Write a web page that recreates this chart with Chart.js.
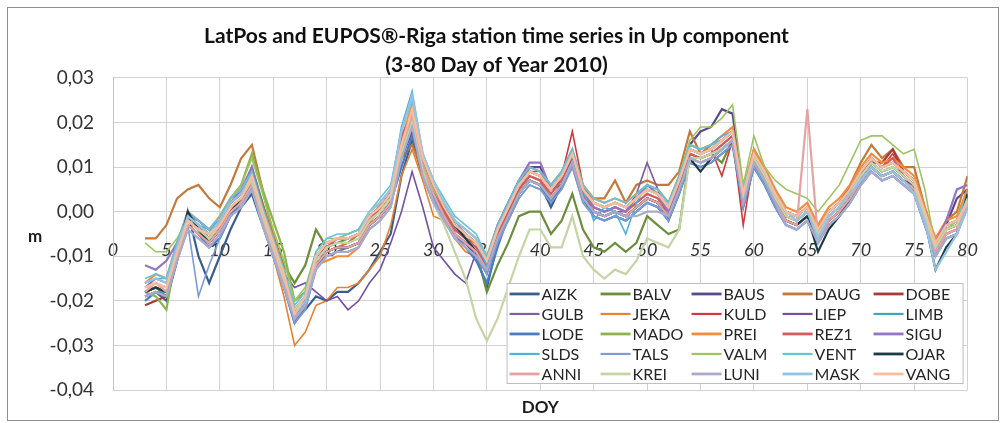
<!DOCTYPE html>
<html>
<head>
<meta charset="utf-8">
<script src="https://cdn.jsdelivr.net/npm/chart.js@4.4.0/dist/chart.umd.min.js"></script>
<style>
  html, body { margin: 0; padding: 0; background: #fff; }
  #wrap { width: 1006px; height: 423px; }
</style>
</head>
<body>
<div id="wrap"><canvas id="c" width="1006" height="423"></canvas></div>
<script>
// Day of year for every sample
const doy = [3,4,5,6,7,8,9,10,11,12,13,14,15,16,17,18,19,20,21,22,23,24,25,26,27,28,29,30,31,32,
  33,34,35,36,37,38,39,40,41,42,43,44,45,46,47,48,49,50,51,52,53,54,55,56,57,58,59,60,61,62,
  63,64,65,66,67,68,69,70,71,72,73,74,75,76,77,78,79,80];

// Up component per station, metres
const aizk = [-0.019,-0.018,-0.020,-0.011,0.000,-0.010,-0.016,-0.010,-0.004,0.001,
  0.004,-0.003,-0.010,-0.017,-0.024,-0.022,-0.019,-0.020,-0.018,-0.018,
  -0.016,-0.013,-0.009,-0.005,0.008,0.016,0.008,0.002,-0.002,-0.005,
  -0.007,-0.010,-0.017,-0.007,-0.001,0.004,0.007,0.006,0.001,0.006,
  0.011,0.003,0.000,-0.001,0.000,-0.001,0.001,0.003,0.002,-0.001,
  0.005,0.012,0.011,0.012,0.014,0.016,0.002,0.011,0.007,0.002,
  -0.002,-0.003,-0.001,-0.006,-0.002,0.000,0.003,0.007,0.010,0.008,
  0.009,0.007,0.005,-0.002,-0.009,-0.005,-0.004,0.002];
const balv = [-0.018,-0.017,-0.019,-0.009,-0.002,-0.004,-0.005,-0.002,0.002,0.004,
  0.010,0.002,-0.006,-0.012,-0.016,-0.012,-0.004,-0.008,-0.007,-0.006,
  -0.005,-0.001,0.001,0.004,0.013,0.020,0.011,0.005,0.000,-0.004,
  -0.006,-0.009,-0.018,-0.012,-0.007,-0.001,0.000,0.000,-0.005,-0.002,
  0.004,-0.004,-0.008,-0.009,-0.007,-0.009,-0.007,-0.001,-0.003,-0.005,
  -0.004,0.013,0.012,0.013,0.011,0.016,0.003,0.012,0.008,0.003,
  -0.001,-0.002,0.000,-0.005,-0.001,0.001,0.004,0.008,0.011,0.009,
  0.010,0.008,0.006,-0.001,-0.008,-0.004,-0.003,0.004];
const baus = [-0.018,-0.017,-0.018,-0.010,-0.003,-0.005,-0.007,-0.004,0.000,0.002,
  0.006,-0.002,-0.009,-0.016,-0.024,-0.021,-0.012,-0.009,-0.008,-0.008,
  -0.007,-0.003,-0.001,0.002,0.012,0.018,0.009,0.003,-0.001,-0.005,
  -0.007,-0.009,-0.013,-0.006,0.000,0.006,0.010,0.010,0.005,0.006,
  0.011,0.003,0.000,-0.001,0.000,-0.001,0.001,0.003,0.002,-0.001,
  0.007,0.015,0.018,0.019,0.023,0.022,0.004,0.011,0.008,0.002,
  -0.002,-0.003,-0.001,-0.006,-0.002,0.000,0.003,0.007,0.010,0.008,
  0.009,0.007,0.006,-0.002,-0.009,-0.003,0.003,0.005];
const daug = [-0.006,-0.006,-0.003,0.003,0.005,0.006,0.003,0.001,0.006,0.012,
  0.015,0.005,-0.005,-0.013,-0.022,-0.020,-0.012,-0.009,-0.008,-0.007,
  -0.005,-0.002,0.001,0.004,0.012,0.015,0.009,0.005,0.000,-0.003,
  -0.006,-0.007,-0.012,-0.004,0.001,0.005,0.008,0.007,0.003,0.006,
  0.011,0.005,0.003,0.003,0.007,0.002,0.006,0.007,0.006,0.006,
  0.009,0.018,0.013,0.015,0.016,0.018,0.004,0.014,0.009,0.004,
  0.000,-0.001,0.001,-0.004,0.000,0.002,0.006,0.011,0.015,0.012,
  0.014,0.010,0.010,0.001,-0.007,-0.002,0.000,0.008];
const dobe = [-0.021,-0.020,-0.019,-0.008,-0.001,-0.003,-0.005,-0.002,0.002,0.004,
  0.008,0.000,-0.007,-0.014,-0.022,-0.019,-0.010,-0.007,-0.006,-0.006,
  -0.005,-0.001,0.001,0.004,0.015,0.022,0.011,0.005,0.001,-0.003,
  -0.005,-0.007,-0.011,-0.004,0.001,0.006,0.009,0.008,0.005,0.008,
  0.013,0.005,0.002,0.001,0.002,0.001,0.003,0.005,0.004,0.001,
  0.007,0.014,0.013,0.014,0.016,0.018,0.004,0.013,0.009,0.004,
  0.000,-0.001,0.001,-0.004,0.000,0.002,0.005,0.009,0.011,0.011,
  0.014,0.009,0.007,0.000,-0.007,-0.003,-0.002,0.005];
const gulb = [-0.017,-0.015,-0.016,-0.008,-0.001,-0.003,-0.006,-0.003,0.001,0.003,
  0.007,-0.001,-0.008,-0.015,-0.023,-0.020,-0.011,-0.008,-0.007,-0.007,
  -0.006,-0.002,0.000,0.003,0.014,0.020,0.010,0.004,0.000,-0.004,
  -0.006,-0.008,-0.012,-0.004,0.001,0.006,0.009,0.009,0.005,0.007,
  0.012,0.004,0.000,-0.001,0.000,0.000,0.004,0.011,0.005,-0.002,
  0.006,0.013,0.012,0.013,0.015,0.017,0.003,0.012,0.008,0.003,
  -0.001,-0.002,0.000,-0.005,-0.001,0.001,0.004,0.008,0.011,0.009,
  0.010,0.008,0.006,-0.001,-0.008,-0.004,-0.003,0.003];
const jeka = [-0.019,-0.018,-0.019,-0.010,-0.003,-0.005,-0.007,-0.004,0.000,0.002,
  0.006,-0.002,-0.010,-0.019,-0.030,-0.027,-0.021,-0.020,-0.017,-0.017,
  -0.016,-0.013,-0.010,-0.003,0.008,0.014,0.007,-0.001,-0.002,-0.006,
  -0.009,-0.010,-0.014,-0.006,-0.001,0.004,0.007,0.006,0.003,0.006,
  0.011,0.003,0.000,-0.001,0.000,-0.001,0.001,0.003,0.002,-0.001,
  0.005,0.012,0.011,0.012,0.014,0.016,0.002,0.011,0.007,0.002,
  -0.002,-0.003,-0.001,-0.006,-0.002,0.000,0.003,0.007,0.010,0.008,
  0.009,0.007,0.005,-0.002,-0.009,-0.005,-0.004,0.002];
const kuld = [-0.016,-0.015,-0.016,-0.008,-0.001,-0.003,-0.005,-0.002,0.002,0.004,
  0.008,0.000,-0.007,-0.014,-0.022,-0.019,-0.010,-0.007,-0.006,-0.006,
  -0.005,-0.001,0.001,0.004,0.015,0.021,0.011,0.005,0.001,-0.003,
  -0.005,-0.007,-0.011,-0.004,0.001,0.006,0.009,0.008,0.005,0.008,
  0.018,0.006,0.002,0.001,0.002,0.001,0.003,0.005,0.004,0.001,
  0.007,0.014,0.013,0.014,0.008,0.016,-0.003,0.012,0.009,0.004,
  0.000,-0.001,0.001,-0.004,0.000,0.002,0.005,0.009,0.012,0.010,
  0.013,0.009,0.007,0.000,-0.007,-0.003,-0.002,0.004];
const liep = [-0.017,-0.016,-0.017,-0.009,-0.002,-0.004,-0.006,-0.003,0.001,0.003,
  0.007,-0.001,-0.008,-0.014,-0.017,-0.016,-0.018,-0.020,-0.019,-0.022,
  -0.020,-0.016,-0.013,-0.007,0.000,0.009,0.001,-0.008,-0.011,-0.014,
  -0.016,-0.009,-0.012,-0.004,0.001,0.006,0.009,0.008,0.005,0.007,
  0.012,0.004,0.001,0.000,0.001,0.000,0.002,0.004,0.003,0.000,
  0.006,0.013,0.012,0.013,0.015,0.017,0.003,0.012,0.008,0.003,
  -0.001,-0.002,0.000,-0.005,-0.001,0.001,0.004,0.008,0.011,0.009,
  0.010,0.008,0.006,-0.001,-0.008,-0.004,-0.003,0.003];
const limb = [-0.019,-0.018,-0.018,-0.011,-0.004,-0.006,-0.008,-0.005,-0.001,0.001,
  0.005,-0.003,-0.010,-0.017,-0.025,-0.022,-0.013,-0.010,-0.009,-0.009,
  -0.008,-0.004,-0.002,0.001,0.013,0.019,0.009,0.003,-0.002,-0.006,
  -0.008,-0.010,-0.014,-0.007,-0.002,0.003,0.006,0.005,0.002,0.005,
  0.010,0.002,-0.001,-0.002,-0.001,-0.002,0.000,0.002,0.001,-0.002,
  0.004,0.011,0.010,0.011,0.013,0.015,0.001,0.010,0.006,0.001,
  -0.003,-0.004,-0.002,-0.007,-0.003,-0.001,0.002,0.006,0.009,0.007,
  0.008,0.006,0.004,-0.003,-0.010,-0.006,-0.005,0.001];
const lode = [-0.020,-0.018,-0.019,-0.011,-0.003,-0.005,-0.008,-0.006,-0.001,0.002,
  0.006,-0.002,-0.010,-0.017,-0.025,-0.021,-0.012,-0.010,-0.009,-0.008,
  -0.007,-0.003,-0.001,0.002,0.010,0.017,0.010,0.004,-0.001,-0.005,
  -0.008,-0.011,-0.016,-0.008,-0.001,0.004,0.007,0.006,0.002,0.006,
  0.012,0.003,-0.001,-0.002,-0.001,-0.002,0.000,0.002,0.001,-0.002,
  0.004,0.011,0.010,0.011,0.013,0.015,0.001,0.010,0.006,0.001,
  -0.003,-0.004,-0.002,-0.007,-0.003,-0.001,0.002,0.006,0.009,0.007,
  0.008,0.006,0.004,-0.003,-0.010,-0.006,-0.005,0.001];
const mado = [-0.018,-0.019,-0.022,-0.008,-0.001,-0.003,-0.005,-0.002,0.003,0.006,
  0.013,0.005,-0.002,-0.009,-0.020,-0.018,-0.010,-0.007,-0.006,-0.006,
  -0.005,-0.001,0.001,0.004,0.015,0.021,0.011,0.005,0.001,-0.003,
  -0.005,-0.007,-0.011,-0.004,0.001,0.006,0.009,0.008,0.005,0.008,
  0.013,0.005,0.002,0.001,0.002,0.001,0.003,0.005,0.004,0.001,
  0.007,0.014,0.013,0.014,0.016,0.018,0.004,0.013,0.009,0.004,
  0.000,-0.001,0.001,-0.004,0.000,0.002,0.005,0.009,0.012,0.010,
  0.011,0.009,0.007,0.000,-0.007,-0.003,-0.002,0.004];
const prei = [-0.016,-0.014,-0.015,-0.007,0.000,-0.002,-0.004,-0.001,0.003,0.005,
  0.009,0.001,-0.006,-0.013,-0.024,-0.021,-0.012,-0.011,-0.010,-0.010,
  -0.008,-0.003,0.002,0.005,0.016,0.024,0.012,0.006,0.002,-0.002,
  -0.004,-0.006,-0.010,-0.003,0.002,0.007,0.010,0.009,0.006,0.009,
  0.014,0.006,0.003,0.002,0.003,0.002,0.004,0.006,0.005,0.002,
  0.008,0.015,0.014,0.015,0.017,0.019,0.005,0.014,0.010,0.005,
  0.001,0.000,0.002,-0.003,0.001,0.003,0.006,0.010,0.013,0.011,
  0.012,0.010,0.008,0.001,-0.006,-0.002,-0.001,0.005];
const rez1 = [-0.018,-0.017,-0.018,-0.009,-0.002,-0.004,-0.006,-0.003,0.001,0.003,
  0.007,-0.001,-0.008,-0.015,-0.024,-0.020,-0.011,-0.008,-0.006,-0.006,
  -0.005,-0.001,0.000,0.003,0.017,0.022,0.010,0.004,0.000,-0.004,
  -0.006,-0.008,-0.012,-0.005,0.000,0.005,0.008,0.007,0.004,0.007,
  0.013,0.004,0.001,0.000,0.001,0.000,0.002,0.004,0.003,0.000,
  0.006,0.013,0.012,0.013,0.015,0.017,0.003,0.012,0.008,0.003,
  -0.001,-0.002,0.000,-0.005,-0.001,0.001,0.004,0.008,0.012,0.010,
  0.012,0.008,0.006,-0.001,-0.008,-0.004,-0.003,0.003];
const sigu = [-0.012,-0.013,-0.011,-0.007,-0.001,-0.002,-0.004,-0.002,0.002,0.005,
  0.010,0.001,-0.007,-0.014,-0.022,-0.019,-0.010,-0.007,-0.006,-0.006,
  -0.005,-0.001,0.001,0.004,0.015,0.021,0.011,0.005,0.001,-0.003,
  -0.005,-0.007,-0.011,-0.003,0.002,0.007,0.011,0.011,0.005,0.008,
  0.013,0.005,0.001,0.000,0.001,0.000,0.003,0.006,0.004,0.000,
  0.007,0.014,0.013,0.014,0.016,0.018,0.004,0.013,0.009,0.004,
  0.000,-0.001,0.001,-0.004,0.000,0.002,0.005,0.009,0.012,0.010,
  0.011,0.009,0.007,0.000,-0.007,-0.002,0.005,0.006];
const slds = [-0.016,-0.015,-0.015,-0.007,-0.001,-0.003,-0.004,-0.002,0.002,0.004,
  0.008,0.000,-0.007,-0.015,-0.024,-0.020,-0.010,-0.007,-0.006,-0.005,
  -0.004,0.000,0.002,0.005,0.019,0.027,0.013,0.007,0.002,-0.002,
  -0.005,-0.007,-0.012,-0.004,0.002,0.007,0.010,0.009,0.006,0.009,
  0.014,0.005,-0.002,0.001,0.000,-0.005,0.002,0.006,0.005,0.002,
  0.008,0.015,0.014,0.015,0.017,0.018,0.005,0.013,0.009,0.004,
  0.000,-0.001,0.001,-0.005,0.000,0.002,0.005,0.009,0.012,0.010,
  0.011,0.009,0.007,0.000,-0.008,-0.004,-0.002,0.004];
const tals = [-0.019,-0.018,-0.019,-0.010,-0.003,-0.019,-0.012,-0.006,-0.001,0.001,
  0.005,-0.003,-0.010,-0.017,-0.025,-0.022,-0.013,-0.010,-0.009,-0.009,
  -0.008,-0.004,-0.002,0.001,0.012,0.020,0.009,0.003,-0.002,-0.006,
  -0.008,-0.010,-0.014,-0.007,-0.002,0.003,0.006,0.005,0.002,0.005,
  0.010,0.002,-0.001,-0.002,-0.001,-0.002,0.000,0.002,0.001,-0.002,
  0.004,0.011,0.010,0.011,0.013,0.015,0.001,0.010,0.006,0.001,
  -0.003,-0.004,-0.002,-0.007,-0.003,-0.001,0.002,0.006,0.009,0.007,
  0.008,0.006,0.004,-0.003,-0.010,-0.006,-0.005,0.001];
const valm = [-0.007,-0.009,-0.009,-0.006,-0.002,-0.003,-0.005,-0.002,0.003,0.006,
  0.012,0.004,-0.004,-0.011,-0.020,-0.017,-0.009,-0.006,-0.006,-0.005,
  -0.004,0.000,0.002,0.005,0.015,0.021,0.011,0.005,0.001,-0.003,
  -0.005,-0.007,-0.011,-0.004,0.001,0.006,0.009,0.008,0.005,0.008,
  0.013,0.005,0.002,0.001,0.002,0.001,0.003,0.005,0.004,0.001,
  0.008,0.016,0.019,0.019,0.021,0.024,0.006,0.017,0.010,0.007,
  0.005,0.004,0.003,0.000,0.003,0.006,0.011,0.016,0.017,0.017,
  0.015,0.013,0.014,0.005,-0.008,-0.004,-0.002,0.004];
const vent = [-0.015,-0.014,-0.015,-0.007,0.000,-0.002,-0.004,-0.001,0.003,0.005,
  0.009,0.001,-0.006,-0.013,-0.021,-0.018,-0.009,-0.006,-0.005,-0.005,
  -0.004,0.000,0.003,0.006,0.018,0.025,0.013,0.007,0.003,-0.001,
  -0.003,-0.005,-0.010,-0.003,0.002,0.007,0.010,0.009,0.006,0.009,
  0.014,0.006,0.003,0.002,0.003,0.002,0.004,0.006,0.005,0.002,
  0.008,0.015,0.014,0.015,0.016,0.018,0.005,0.013,0.009,0.004,
  0.000,-0.001,0.001,-0.004,0.000,0.002,0.005,0.009,0.012,0.010,
  0.011,0.009,0.007,0.000,-0.007,-0.003,-0.002,0.004];
const ojar = [-0.018,-0.017,-0.018,-0.010,0.000,-0.004,-0.007,-0.004,0.000,0.003,
  0.006,-0.002,-0.009,-0.016,-0.022,-0.020,-0.012,-0.009,-0.008,-0.008,
  -0.007,-0.003,-0.001,0.002,0.013,0.019,0.012,0.006,0.001,-0.003,
  -0.006,-0.009,-0.013,-0.006,-0.001,0.004,0.007,0.006,0.003,0.006,
  0.011,0.003,0.000,-0.001,0.000,-0.001,0.001,0.003,0.002,-0.001,
  0.005,0.012,0.009,0.012,0.014,0.016,0.002,0.011,0.007,0.002,
  -0.002,-0.003,-0.001,-0.009,-0.004,-0.001,0.003,0.007,0.010,0.008,
  0.009,0.007,0.005,-0.002,-0.013,-0.008,-0.005,0.004];
const anni = [-0.018,-0.016,-0.018,-0.010,-0.003,-0.005,-0.007,-0.004,0.000,0.002,
  0.006,-0.002,-0.009,-0.016,-0.024,-0.021,-0.012,-0.009,-0.008,-0.008,
  -0.007,-0.003,-0.001,0.002,0.014,0.022,0.010,0.004,-0.001,-0.005,
  -0.007,-0.009,-0.013,-0.006,-0.001,0.004,0.007,0.006,0.003,0.006,
  0.011,0.003,0.000,-0.001,0.000,-0.001,0.001,0.003,0.002,-0.001,
  0.005,0.012,0.011,0.012,0.014,0.016,0.002,0.011,0.007,0.002,
  -0.002,-0.003,0.023,-0.006,-0.002,0.000,0.003,0.007,0.010,0.008,
  0.009,0.007,0.005,-0.002,-0.009,-0.005,-0.004,0.002];
const krei = [-0.017,-0.016,-0.017,-0.009,-0.002,-0.004,-0.006,-0.003,0.001,0.003,
  0.007,-0.001,-0.008,-0.015,-0.022,-0.019,-0.011,-0.008,-0.007,-0.007,
  -0.006,-0.002,0.000,0.003,0.013,0.020,0.009,0.002,-0.003,-0.009,
  -0.015,-0.024,-0.029,-0.024,-0.017,-0.010,-0.004,-0.004,-0.008,-0.008,
  -0.001,-0.010,-0.013,-0.015,-0.013,-0.014,-0.011,-0.006,-0.007,-0.008,
  -0.004,0.012,0.012,0.013,0.014,0.016,0.003,0.012,0.008,0.003,
  -0.001,-0.002,0.000,-0.005,-0.001,0.001,0.004,0.008,0.011,0.009,
  0.010,0.008,0.006,-0.001,-0.008,-0.004,-0.003,0.003];
const luni = [-0.019,-0.018,-0.019,-0.011,-0.004,-0.006,-0.008,-0.005,-0.001,0.001,
  0.005,-0.003,-0.010,-0.017,-0.024,-0.021,-0.013,-0.010,-0.009,-0.009,
  -0.008,-0.004,-0.002,0.001,0.012,0.019,0.008,0.002,-0.002,-0.006,
  -0.008,-0.010,-0.013,-0.006,-0.001,0.004,0.007,0.006,0.003,0.006,
  0.011,0.003,0.000,-0.001,0.000,-0.001,-0.001,0.000,0.000,-0.001,
  0.005,0.012,0.011,0.012,0.014,0.016,0.002,0.011,0.007,0.002,
  -0.003,-0.004,-0.002,-0.007,-0.003,-0.001,0.002,0.006,0.009,0.007,
  0.008,0.006,0.004,-0.003,-0.010,-0.006,-0.005,0.001];
const mask = [-0.016,-0.015,-0.016,-0.008,-0.001,-0.003,-0.005,-0.002,0.002,0.004,
  0.008,0.000,-0.007,-0.014,-0.023,-0.020,-0.010,-0.007,-0.006,-0.006,
  -0.005,0.000,0.002,0.005,0.018,0.026,0.013,0.007,0.002,-0.002,
  -0.004,-0.006,-0.011,-0.004,0.001,0.006,0.009,0.008,0.005,0.008,
  0.013,0.005,0.002,0.001,0.002,0.001,0.003,0.005,0.004,0.001,
  0.007,0.014,0.013,0.014,0.016,0.018,0.004,0.013,0.009,0.004,
  0.000,-0.002,0.000,-0.006,-0.001,0.001,0.004,0.007,0.010,0.008,
  0.009,0.007,0.004,-0.002,-0.013,-0.009,-0.005,0.001];
const vang = [-0.017,-0.016,-0.017,-0.009,-0.002,-0.004,-0.005,-0.003,0.001,0.003,
  0.008,0.000,-0.007,-0.014,-0.023,-0.019,-0.010,-0.007,-0.006,-0.006,
  -0.005,-0.001,0.001,0.004,0.015,0.023,0.012,0.006,0.001,-0.003,
  -0.005,-0.007,-0.011,-0.004,0.001,0.006,0.009,0.008,0.005,0.008,
  0.013,0.005,0.002,0.001,0.002,0.001,0.003,0.005,0.004,0.001,
  0.007,0.014,0.013,0.014,0.016,0.018,0.004,0.013,0.009,0.004,
  0.000,-0.001,0.001,-0.004,0.000,0.002,0.005,0.009,0.012,0.010,
  0.011,0.009,0.007,0.000,-0.007,-0.003,-0.002,0.002];

const stations = ['AIZK','BALV','BAUS','DAUG','DOBE','GULB','JEKA','KULD','LIEP','LIMB',
  'LODE','MADO','PREI','REZ1','SIGU','SLDS','TALS','VALM','VENT','OJAR',
  'ANNI','KREI','LUNI','MASK','VANG'];
const seriesValues = [aizk, balv, baus, daug, dobe, gulb, jeka, kuld, liep, limb,
  lode, mado, prei, rez1, sigu, slds, tals, valm, vent, ojar,
  anni, krei, luni, mask, vang];
const lineColors = ['#3b5f8c','#6b8e3a','#5b4a8b','#c4783a','#a63c3a','#7b5fa0','#e8822e','#cc3b3b','#7150a5','#3ea6ba',
  '#4a7cc2','#8db44c','#f58c3c','#d45c5c','#9674c4','#4cb2dc','#7c9cd4','#9cc462','#62c4dc','#1c3c44',
  '#e6a2a2','#c4d4a4','#aaaacc','#94c4e4','#fabc9c'];
const lineWidths = [2.2,2.2,2.2,2.2,2.2,1.6,1.6,1.6,1.6,1.6,
  2.2,2.2,2.2,2.2,2.2,1.6,1.6,1.6,1.6,2.2,
  2.2,2.2,2.2,2.2,2.2];

const xTickValues = [0,5,10,15,20,25,30,35,40,45,50,55,60,65,70,75,80];
const yTickValues = [-0.04,-0.03,-0.02,-0.01,0,0.01,0.02,0.03];
const yTickLabels = ['-0,04','-0,03','-0,02','-0,01','0,00','0,01','0,02','0,03'];
const titleLines = ['LatPos and EUPOS\u00AE-Riga station time series in Up component', '(3-80 Day of Year 2010)'];
const axisNames = { x: 'DOY', y: 'm' };

const FONT = 'Lato, "Open Sans", "DejaVu Sans", sans-serif';
Chart.defaults.font.family = FONT;

const datasets = stations.map((name, i) => ({
  label: name,
  data: seriesValues[i].map((v, k) => ({ x: doy[k], y: v })),
  borderColor: lineColors[i],
  backgroundColor: lineColors[i],
  borderWidth: lineWidths[i],
  pointRadius: 0,
  tension: 0,
  fill: false,
  order: stations.length - i
}));

// Outer frame, axis names and the boxed legend in the lower right of the plot
const decorations = {
  id: 'decorations',
  beforeDraw(chart) {
    const ctx = chart.ctx;
    ctx.save();
    ctx.fillStyle = '#ffffff';
    ctx.fillRect(0, 0, chart.width, chart.height);
    ctx.strokeStyle = '#8e8e8e';
    ctx.lineWidth = 1;
    ctx.strokeRect(7.5, 7.5, 991, 413);
    ctx.restore();
  },
  afterDatasetsDraw(chart) {
    const { ctx, chartArea: a } = chart;
    ctx.save();
    // legend box
    const bx = a.right - 461, by = a.top + 205, bw = 456, bh = 100;
    ctx.fillStyle = '#ffffff';
    ctx.fillRect(bx, by, bw, bh);
    ctx.strokeStyle = '#bdbdbd';
    ctx.lineWidth = 1;
    ctx.strokeRect(bx + 0.5, by + 0.5, bw, bh);
    ctx.font = '16px ' + FONT;
    ctx.textAlign = 'left';
    ctx.textBaseline = 'middle';
    chart.data.datasets.forEach((ds, i) => {
      const col = i % 5, row = Math.floor(i / 5);
      const lx = bx + 3 + col * 91;
      const ly = by + 11 + row * 20;
      ctx.strokeStyle = ds.borderColor;
      ctx.lineWidth = ds.borderWidth + 0.6;
      ctx.beginPath();
      ctx.moveTo(lx, ly);
      ctx.lineTo(lx + 30, ly);
      ctx.stroke();
      ctx.fillStyle = '#262626';
      ctx.fillText(ds.label, lx + 32, ly + 1);
    });
    ctx.restore();
  },
  afterDraw(chart) {
    const { ctx, chartArea: a } = chart;
    ctx.save();
    ctx.fillStyle = '#1a1a1a';
    ctx.font = 'bold 17px ' + FONT;
    ctx.textAlign = 'center';
    ctx.textBaseline = 'middle';
    ctx.fillText(axisNames.y, 35, (a.top + a.bottom) / 2 + 3);
    ctx.fillText(axisNames.x, (a.left + a.right) / 2, 408);
    ctx.restore();
  }
};

new Chart(document.getElementById('c'), {
  type: 'line',
  data: { datasets },
  options: {
    responsive: false,
    animation: false,
    events: [],
    layout: { padding: { left: 0, right: 13, top: 0, bottom: 33 } },
    plugins: {
      legend: { display: false },
      tooltip: { enabled: false },
      title: {
        display: true,
        text: titleLines,
        color: '#111111',
        font: { size: 21, weight: 'bold', lineHeight: 1.38 },
        padding: { top: 22, bottom: -2 }
      }
    },
    scales: {
      x: {
        type: 'linear',
        min: 0,
        max: 80,
        position: { y: 0 },
        afterBuildTicks: s => { s.ticks = xTickValues.map(v => ({ value: v })); },
        grid: { color: '#d2d2d2', lineWidth: 1, drawTicks: false },
        border: { display: false },
        ticks: {
          autoSkip: false,
          maxRotation: 0,
          padding: 28,
          color: '#333333',
          font: { size: 18, style: 'italic' }
        }
      },
      y: {
        type: 'linear',
        position: 'left',
        min: -0.04,
        max: 0.03,
        afterBuildTicks: s => { s.ticks = yTickValues.map(v => ({ value: v })); },
        afterFit: s => { s.width = 113; },
        grid: { color: '#d2d2d2', lineWidth: 1, drawTicks: false },
        border: { color: '#c4c4c4' },
        ticks: {
          padding: 19,
          color: '#333333',
          font: { size: 19 },
          callback: (v, i) => yTickLabels[i]
        }
      }
    }
  },
  plugins: [decorations]
});
</script>
</body>
</html>
